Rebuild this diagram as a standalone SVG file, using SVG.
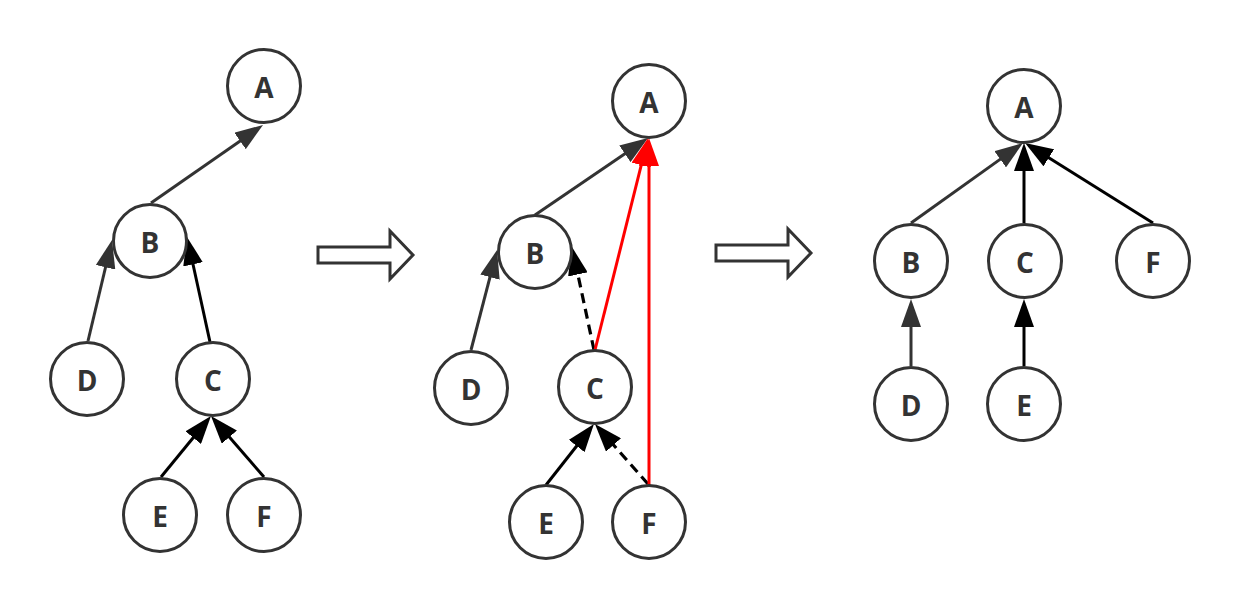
<svg xmlns="http://www.w3.org/2000/svg" width="1239" height="615" viewBox="0 0 1239 615">
<style>
.n circle{fill:#fff;stroke:#333;stroke-width:3}
.n text{font-family:"Open Sans","Noto Sans","Liberation Sans",sans-serif;font-weight:bold;font-size:28px;fill:#333;text-anchor:middle}
.e{fill:none;stroke-width:3}
.dk{stroke:#333}
.bk{stroke:#000}
.rd{stroke:#f00}
.ds{stroke-dasharray:10 6;stroke-width:3.2}
.big{fill:#fff;stroke:#333;stroke-width:3}
</style>
<defs>
<marker id="mDk" markerUnits="userSpaceOnUse" markerWidth="28" markerHeight="20" refX="8" refY="10" orient="auto"><path d="M0,0 L28,10 L0,20 Z" fill="#333"/></marker>
<marker id="mBk" markerUnits="userSpaceOnUse" markerWidth="28" markerHeight="20" refX="8" refY="10" orient="auto"><path d="M0,0 L28,10 L0,20 Z" fill="#000"/></marker>
<marker id="mRd" markerUnits="userSpaceOnUse" markerWidth="28" markerHeight="20" refX="8" refY="10" orient="auto"><path d="M0,0 L28,10 L0,20 Z" fill="#f00"/></marker>
</defs>
<rect width="1239" height="615" fill="#fff"/>
<g id="connectors">
<line class="e dk" x1="151" y1="203" x2="246.6" y2="136.4" marker-end="url(#mDk)"/>
<line class="e dk" x1="88" y1="341" x2="107.4" y2="259.5" marker-end="url(#mDk)"/>
<line class="e bk" x1="210" y1="342" x2="191.3" y2="256.5" marker-end="url(#mBk)"/>
<line class="e bk" x1="161" y1="477" x2="198.3" y2="431.5" marker-end="url(#mBk)"/>
<line class="e bk" x1="264" y1="477" x2="224.1" y2="431.1" marker-end="url(#mBk)"/>

<line class="e dk" x1="535" y1="215" x2="631.5" y2="149.3" marker-end="url(#mDk)"/>
<line class="e dk" x1="471" y1="350" x2="492" y2="269.4" marker-end="url(#mDk)"/>
<line class="e bk ds" x1="594" y1="350" x2="576.2" y2="266.6" marker-end="url(#mBk)"/>
<line class="e bk" x1="546" y1="485" x2="581.6" y2="439.7" marker-end="url(#mBk)"/>
<line class="e bk ds" x1="648" y1="484" x2="608.2" y2="439" marker-end="url(#mBk)"/>
<line class="e rd" x1="595" y1="350" x2="643.2" y2="157.4" marker-end="url(#mRd)"/>
<line class="e rd" x1="649" y1="485" x2="649" y2="158" marker-end="url(#mRd)"/>

<line class="e dk" x1="911" y1="223" x2="1006.7" y2="154.6" marker-end="url(#mDk)"/>
<line class="e bk" x1="1024" y1="223" x2="1024" y2="163" marker-end="url(#mBk)"/>
<line class="e bk" x1="1153" y1="223" x2="1042" y2="153.6" marker-end="url(#mBk)"/>
<line class="e dk" x1="911" y1="366" x2="911" y2="319" marker-end="url(#mDk)"/>
<line class="e bk" x1="1024" y1="366" x2="1024" y2="319" marker-end="url(#mBk)"/>
</g>
<g id="arrow1"><path class="big" d="M318,247 L390,247 L390,231 L413,255 L390,279 L390,263 L318,263 Z"/></g>
<g id="arrow2"><path class="big" d="M716,245 L788,245 L788,229 L811,253 L788,277 L788,261 L716,261 Z"/></g>

<g id="L-A" class="n"><circle cx="264" cy="86" r="36.5"/><text x="264" y="98">A</text></g>
<g id="L-B" class="n"><circle cx="150" cy="241" r="36.5"/><text x="150" y="253">B</text></g>
<g id="L-D" class="n"><circle cx="87" cy="379" r="36.5"/><text x="87" y="391">D</text></g>
<g id="L-C" class="n"><circle cx="213" cy="379" r="36.5"/><text x="213" y="391">C</text></g>
<g id="L-E" class="n"><circle cx="160" cy="515" r="36.5"/><text x="160" y="527">E</text></g>
<g id="L-F" class="n"><circle cx="264" cy="515" r="36.5"/><text x="264" y="527">F</text></g>

<g id="M-A" class="n"><circle cx="649" cy="101" r="36.5"/><text x="649" y="113">A</text></g>
<g id="M-B" class="n"><circle cx="535" cy="252" r="36.5"/><text x="535" y="264">B</text></g>
<g id="M-D" class="n"><circle cx="471" cy="388" r="36.5"/><text x="471" y="400">D</text></g>
<g id="M-C" class="n"><circle cx="595" cy="387" r="36.5"/><text x="595" y="399">C</text></g>
<g id="M-E" class="n"><circle cx="546" cy="522" r="36.5"/><text x="546" y="534">E</text></g>
<g id="M-F" class="n"><circle cx="649" cy="522" r="36.5"/><text x="649" y="534">F</text></g>

<g id="R-A" class="n"><circle cx="1024" cy="106" r="36.5"/><text x="1024" y="118">A</text></g>
<g id="R-B" class="n"><circle cx="911" cy="261" r="36.5"/><text x="911" y="273">B</text></g>
<g id="R-C" class="n"><circle cx="1025" cy="261" r="36.5"/><text x="1025" y="273">C</text></g>
<g id="R-F" class="n"><circle cx="1153" cy="261" r="36.5"/><text x="1153" y="273">F</text></g>
<g id="R-D" class="n"><circle cx="911" cy="404" r="36.5"/><text x="911" y="416">D</text></g>
<g id="R-E" class="n"><circle cx="1024" cy="404" r="36.5"/><text x="1024" y="416">E</text></g>
</svg>
